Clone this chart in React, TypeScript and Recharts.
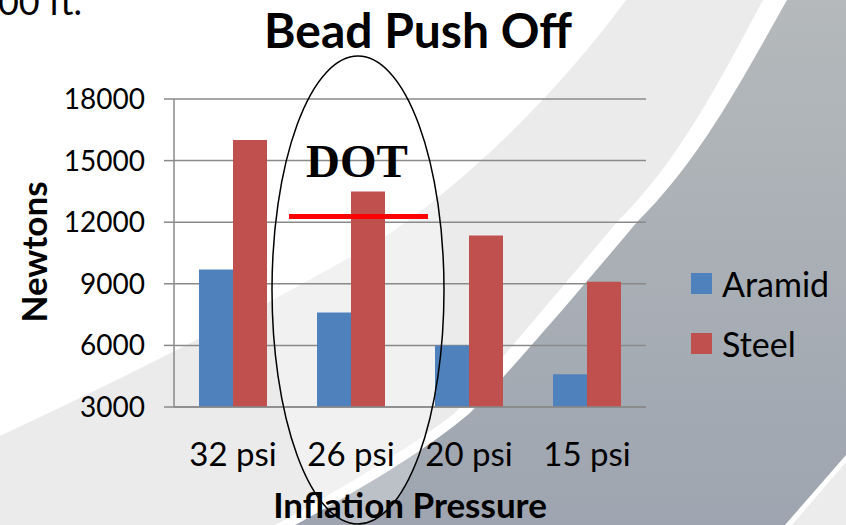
import React from 'react';
import { BarChart, Bar, XAxis, YAxis, CartesianGrid, Legend } from 'recharts';

const categories = ['32 psi', '26 psi', '20 psi', '15 psi'];
const aramid = [9700, 7600, 6000, 4600];
const steel = [16000, 13500, 11350, 9100];
const yTicks = [3000, 6000, 9000, 12000, 15000, 18000];

const data = categories.map((name, i) => ({ name, Aramid: aramid[i], Steel: steel[i] }));

const W = 846;
const H = 525;
const FONT = 'Lato, "Open Sans", sans-serif';
const GRID = '#8a8a8a';

const renderLegend = (props: any) => {
  const items = props.payload || [];
  return (
    <div style={{ display: 'flex', flexDirection: 'column' }}>
      {items.map((it: any) => (
        <div key={it.value} style={{ display: 'flex', alignItems: 'center', height: 60 }}>
          <span style={{ width: 21, height: 21, background: it.color, marginRight: 10, display: 'inline-block' }} />
          <span style={{ fontSize: 34, color: '#000', fontFamily: FONT }}>{it.value}</span>
        </div>
      ))}
    </div>
  );
};

export default function App() {
  return (
    <div style={{ position: 'absolute', left: 0, top: 0, width: W, height: H, overflow: 'hidden', background: '#fff', fontFamily: FONT }}>
      {/* slide background */}
      <svg width={W} height={H} style={{ position: 'absolute', left: 0, top: 0 }}>
        <defs>
          <linearGradient id="dark" x1="0" y1="0" x2="0" y2="1">
            <stop offset="0%" stopColor="#b5b9bb" />
            <stop offset="100%" stopColor="#9ea5b0" />
          </linearGradient>
        </defs>
        <path d="M0,436 C120,380 260,310 380,240 C470,180 560,90 626,0 L763,0 C720,80 680,160 617,222 C560,290 500,360 455,413 C400,455 330,495 275,525 L0,525 Z" fill="#ebebeb" />
        <path d="M787,0 L846,0 L846,455 L785,525 L295,525 C350,495 420,455 470,413 C520,360 580,290 637,222 C700,160 742,80 787,0 Z" fill="url(#dark)" />
        <path d="M846,462 L846,525 L792,525 Z" fill="#ececec" />
        <ellipse cx={358} cy={290} rx={86} ry={234} fill="#fff" fillOpacity={0.3} />
        <text x={82} y={15} textAnchor="end" fontSize={36} fontFamily={FONT} fill="#000">500 ft.</text>
      </svg>

      <div style={{ position: 'absolute', left: 0, top: 0 }}>
        <BarChart
          width={W}
          height={H}
          data={data}
          margin={{ top: 99, right: 200, bottom: 58, left: 64 }}
          barCategoryGap={25}
          barGap={0}
        >
          <CartesianGrid vertical={false} stroke={GRID} strokeWidth={1.5} />
          <XAxis
            dataKey="name"
            height={60}
            tickLine={false}
            tickSize={10}
            tickMargin={26}
            axisLine={{ stroke: GRID, strokeWidth: 1.5 }}
            tick={{ fill: '#000', fontSize: 33 }}
            interval={0}
          />
          <YAxis
            width={110}
            domain={[3000, 18000]}
            ticks={yTicks}
            tickSize={10}
            tickMargin={19}
            tickLine={{ stroke: GRID, strokeWidth: 1.5 }}
            axisLine={{ stroke: GRID, strokeWidth: 1.5 }}
            tick={{ fill: '#000', fontSize: 28 }}
          />
          <Legend
            layout="vertical"
            align="center"
            verticalAlign="middle"
            content={renderLegend}
            wrapperStyle={{ left: 691, top: 253, width: 150 }}
          />
          <Bar dataKey="Aramid" fill="#4f81bd" isAnimationActive={false} />
          <Bar dataKey="Steel" fill="#c0504d" isAnimationActive={false} />
        </BarChart>
      </div>

      {/* titles and annotation */}
      <svg width={W} height={H} style={{ position: 'absolute', left: 0, top: 0, pointerEvents: 'none' }}>
        <text x={418} y={48} textAnchor="middle" fontSize={48} fontWeight="bold" fontFamily={FONT} fill="#000">Bead Push Off</text>
        <text x={410} y={518} textAnchor="middle" fontSize={35} fontWeight="bold" fontFamily={FONT} fill="#000">Inflation Pressure</text>
        <text x={47} y={252} textAnchor="middle" fontSize={35} fontWeight="bold" fontFamily={FONT} fill="#000" transform="rotate(-90 47 252)">Newtons</text>
        <ellipse cx={358} cy={290} rx={86} ry={234} fill="none" stroke="#000" strokeWidth={1.5} />
        <line x1={289} x2={428} y1={216.5} y2={216.5} stroke="#ff0000" strokeWidth={5} />
        <text x={357} y={177} textAnchor="middle" fontSize={47} fontWeight="bold" fontFamily='"Liberation Serif", serif' fill="#000">DOT</text>
      </svg>
    </div>
  );
}
